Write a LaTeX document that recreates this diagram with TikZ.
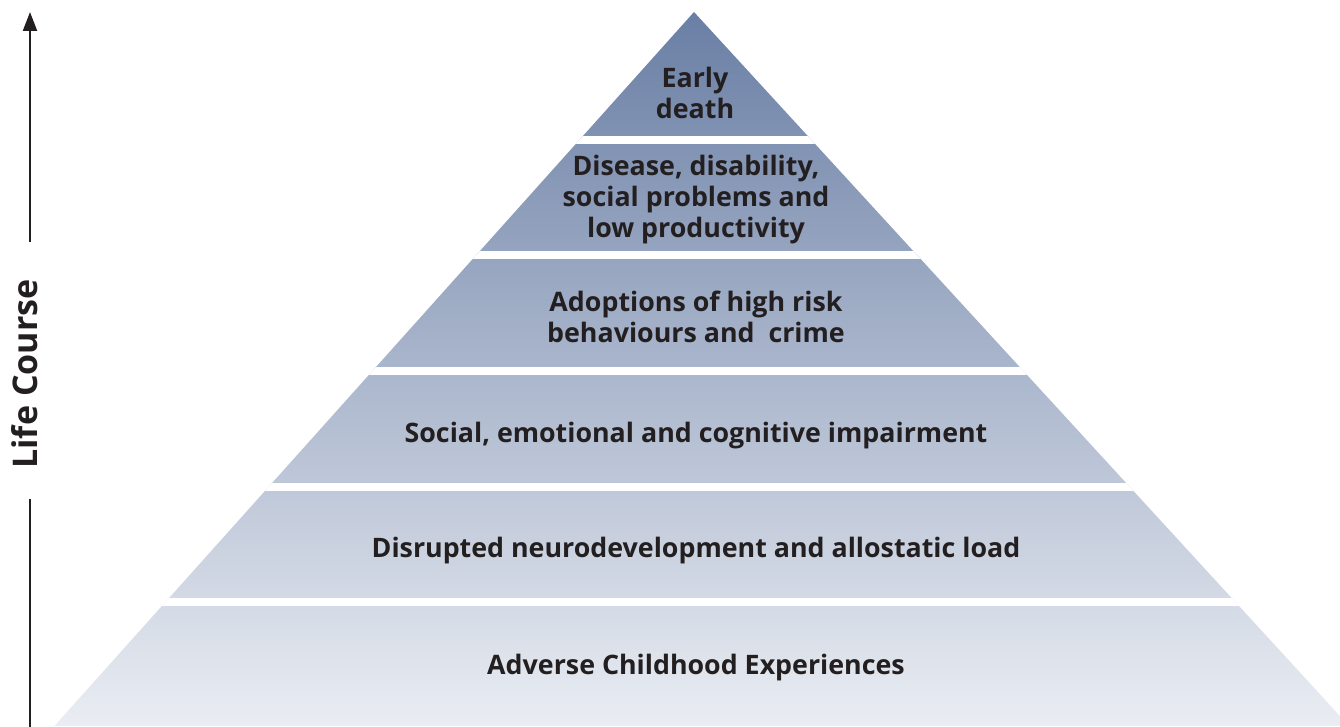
\documentclass[tikz,border=0pt]{standalone}
\usepackage{fontspec}
\setmainfont{Open Sans}
\usetikzlibrary{arrows.meta}
\begin{document}
\begin{tikzpicture}[x=1pt,y=-1pt,
  lbl/.style={font=\bfseries\fontsize{26.8}{31}\selectfont, text=txt, align=center, inner sep=0pt},
  axis/.style={line width=2.2pt, draw=txt}]
\definecolor{txt}{HTML}{231F20}
\definecolor{ptop}{HTML}{6A7FA5}
\definecolor{pbot}{HTML}{EAEDF3}
\useasboundingbox (0,0) rectangle (1340,727);
\begin{scope}
  \clip (694,12) -- (1350,727) -- (53.5,727) -- cycle;
  \shade[top color=ptop, bottom color=pbot] (0,12) rectangle (1340,726);
  \foreach \g in {136,251,367,483,598}
    \fill[white] (0,\g) rectangle (1340,\g+8);
  \fill[white] (0,726) rectangle (1340,727);
\end{scope}
\node[lbl] (l1) at (695,93) {Early\\death};
\node[lbl] (l2) at (696,200) {Disease, disability,\\social problems and\\low productivity};
\node[lbl] (l3) at (696,317) {Adoptions of high risk\\behaviours and\ \ crime};
\node[lbl] (l4) at (696,436) {Social, emotional and cognitive impairment};
\node[lbl] (l5) at (696,551) {Disrupted neurodevelopment and allostatic load};
\node[lbl] (l6) at (696,668) {Adverse Childhood Experiences};
\node[font=\bfseries\fontsize{34}{40}\selectfont, text=txt, rotate=90, inner sep=0pt] (lc) at (25,374) {Life Course};
\coordinate (abot) at (30,727);
\coordinate (alow) at (30,499);
\coordinate (aup) at (30,242);
\coordinate (atop) at (30,12);
\draw[axis] (abot) -- (alow);
\draw[axis, -{Triangle[length=19pt,width=14pt]}] (aup) -- (atop);
\end{tikzpicture}
\end{document}
